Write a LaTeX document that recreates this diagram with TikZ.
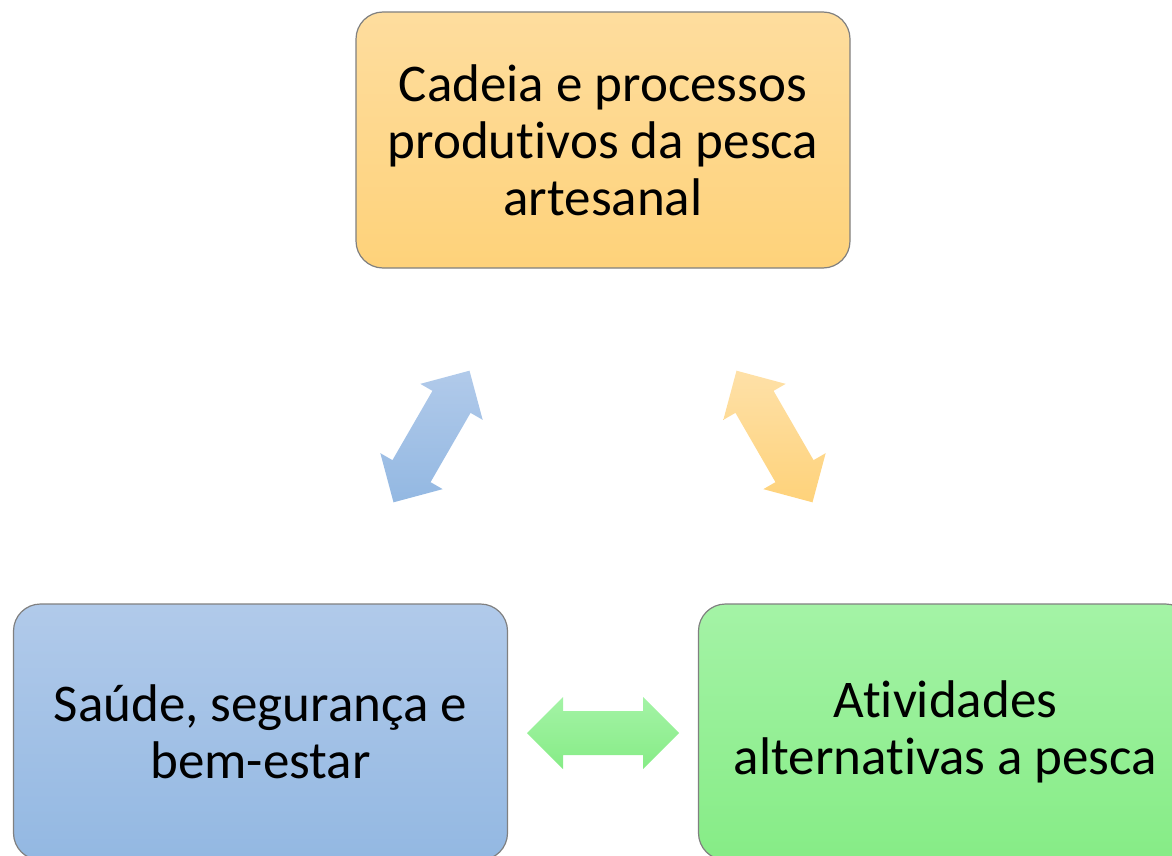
\documentclass[tikz,border=0pt]{standalone}
\usepackage{fontspec}
\setmainfont{Carlito}[RawFeature={-liga}]
\definecolor{orTop}{RGB}{254,221,158}
\definecolor{orBot}{RGB}{254,210,122}
\definecolor{blTop}{RGB}{177,202,234}
\definecolor{blBot}{RGB}{147,184,226}
\definecolor{grTop}{RGB}{164,243,166}
\definecolor{grBot}{RGB}{134,236,134}
\definecolor{boxline}{RGB}{128,128,128}
\tikzset{
  boxnode/.style={draw=boxline, line width=1.2pt, rounded corners=27pt,
    minimum width=494pt, minimum height=256pt, inner sep=0pt,
    align=center, font=\fontsize{53}{57}\selectfont},
  dblarrow/.style={draw=none}
}
\newcommand{\dblarrowpath}{(-76,0) -- (-40,36) -- (-40,22) -- (40,22) -- (40,36) -- (76,0) -- (40,-36) -- (40,-22) -- (-40,-22) -- (-40,-36) -- cycle}
\begin{document}
\begin{tikzpicture}[x=1pt,y=-1pt]
\useasboundingbox (0,0) rectangle (1172,856);
\clip (0,0) rectangle (1172,856);
\node[boxnode, top color=orTop, bottom color=orBot] (top) at (603,140)
  {Cadeia e processos\\produtivos da pesca\\artesanal};
\node[boxnode, top color=blTop, bottom color=blBot] (left) at (260.5,732)
  {Saúde, segurança e\\bem-estar};
\node[boxnode, top color=grTop, bottom color=grBot] (right) at (945.5,732)
  {Atividades\\alternativas a pesca};
\path[dblarrow, top color=blTop, bottom color=blBot, shift={(431.5,436.5)}, rotate=60] \dblarrowpath;
\path[dblarrow, top color=orTop!90!white, bottom color=orBot, shift={(774.5,436.5)}, rotate=-60] \dblarrowpath;
\path[dblarrow, top color=grTop, bottom color=grBot, shift={(603,733)}] \dblarrowpath;
\end{tikzpicture}
\end{document}
